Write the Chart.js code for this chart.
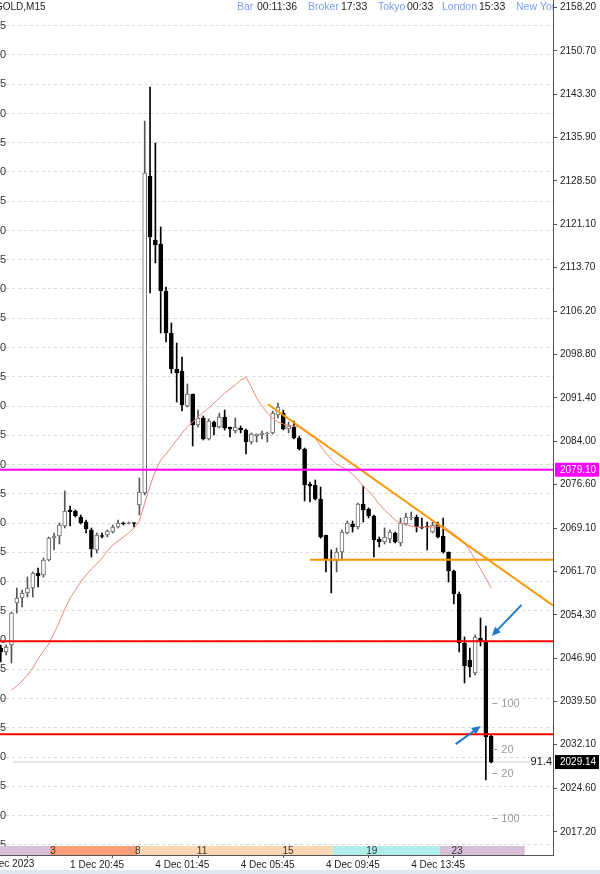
<!DOCTYPE html>
<html>
<head>
<meta charset="utf-8">
<script src="https://cdn.jsdelivr.net/npm/chart.js@4.4.0/dist/chart.umd.min.js"></script>
<style>
  html, body { margin: 0; padding: 0; background: #dfe7ef; }
  #wrap { width: 600px; height: 870px; background: #fff; }
</style>
</head>
<body>
<div id="wrap"><canvas id="myChart" width="600" height="870"></canvas></div>
<script>
// GOLD M15 bars
var opens = [2048.63, 2047.95, 2049.15, 2056.33, 2057.18, 2058.04, 2058.89, 2061.46, 2061.11, 2063.68,
  2067.44, 2067.78, 2069.49, 2072.22, 2072.05, 2071.03, 2070.17, 2068.81, 2065.39, 2067.87,
  2067.95, 2068.46, 2069.32, 2070.00, 2069.92, 2070.00, 2073.08, 2075.13, 2129.31, 2118.37,
  2117.69, 2109.66, 2102.48, 2096.32, 2095.98, 2090.00, 2092.05, 2086.75, 2087.95, 2084.36,
  2087.26, 2086.41, 2088.12, 2086.41, 2085.72, 2086.24, 2085.90, 2083.84, 2084.87, 2085.04,
  2085.21, 2085.38, 2088.46, 2088.80, 2086.07, 2086.41, 2084.53, 2082.65, 2076.66, 2076.49,
  2074.10, 2067.95, 2063.68, 2063.51, 2065.05, 2068.29, 2069.83, 2069.32, 2073.25, 2072.40,
  2071.20, 2067.27, 2066.75, 2067.27, 2068.29, 2066.58, 2069.83, 2070.86, 2071.03, 2069.32,
  2069.40, 2068.46, 2069.83, 2067.78, 2065.05, 2061.80, 2057.87, 2049.49, 2046.58, 2044.36,
  2050.34, 2049.66, 2033.59];
var highs = [2049.15, 2049.15, 2054.79, 2058.89, 2058.55, 2060.77, 2061.63, 2062.31, 2064.02, 2067.61,
  2068.29, 2070.00, 2075.47, 2072.91, 2072.22, 2071.37, 2070.52, 2069.15, 2068.29, 2068.29,
  2068.81, 2069.66, 2070.52, 2070.17, 2070.17, 2070.00, 2077.69, 2138.72, 2144.53, 2134.96,
  2120.60, 2110.34, 2104.19, 2100.77, 2098.37, 2093.76, 2092.05, 2089.31, 2088.29, 2087.78,
  2087.43, 2088.80, 2089.31, 2086.41, 2087.95, 2086.58, 2086.07, 2085.38, 2085.21, 2085.72,
  2085.55, 2089.14, 2090.51, 2089.31, 2087.26, 2087.43, 2084.87, 2082.82, 2077.01, 2077.35,
  2076.15, 2067.95, 2065.39, 2065.73, 2068.81, 2070.34, 2070.34, 2073.42, 2076.32, 2072.57,
  2071.37, 2067.61, 2069.15, 2068.81, 2068.46, 2070.86, 2071.71, 2071.88, 2071.37, 2070.86,
  2070.17, 2070.17, 2070.17, 2070.86, 2065.05, 2061.97, 2058.21, 2050.52, 2048.63, 2050.86,
  2053.76, 2052.40, 2033.76];
var lows = [2046.24, 2047.44, 2046.07, 2054.62, 2055.64, 2057.35, 2057.35, 2059.06, 2060.77, 2063.51,
  2065.39, 2066.41, 2069.15, 2069.49, 2071.03, 2069.83, 2068.29, 2064.19, 2064.87, 2067.44,
  2067.61, 2068.29, 2069.15, 2069.66, 2069.83, 2069.32, 2071.37, 2074.79, 2109.31, 2114.44,
  2102.48, 2100.94, 2095.64, 2090.68, 2089.14, 2089.83, 2083.16, 2086.41, 2084.19, 2084.19,
  2085.04, 2086.24, 2085.90, 2084.70, 2085.38, 2085.38, 2081.79, 2083.50, 2083.84, 2084.36,
  2083.84, 2085.21, 2087.95, 2085.90, 2085.38, 2084.36, 2082.48, 2073.76, 2073.59, 2073.93,
  2067.40, 2061.63, 2058.04, 2061.63, 2063.68, 2068.12, 2068.46, 2068.98, 2070.17, 2070.86,
  2064.19, 2065.90, 2066.41, 2066.58, 2066.58, 2066.07, 2069.66, 2070.52, 2068.46, 2068.98,
  2065.39, 2068.29, 2067.44, 2064.87, 2059.92, 2056.16, 2047.95, 2042.65, 2043.68, 2044.02,
  2048.98, 2026.07, 2028.98];
var closes = [2047.95, 2048.81, 2054.62, 2057.18, 2058.04, 2058.89, 2061.46, 2060.94, 2063.68, 2067.44,
  2067.78, 2069.66, 2072.05, 2071.88, 2071.20, 2070.00, 2068.98, 2065.56, 2067.95, 2067.70,
  2068.64, 2069.32, 2070.00, 2069.83, 2070.00, 2069.92, 2075.30, 2129.83, 2118.89, 2117.52,
  2109.66, 2102.48, 2096.32, 2095.64, 2090.17, 2092.05, 2086.75, 2087.95, 2084.36, 2087.43,
  2086.41, 2088.12, 2086.24, 2086.07, 2086.41, 2085.90, 2083.84, 2085.21, 2085.21, 2085.38,
  2085.38, 2088.80, 2089.83, 2086.07, 2086.58, 2084.53, 2082.65, 2076.49, 2076.32, 2074.10,
  2067.61, 2063.68, 2063.60, 2065.05, 2068.46, 2070.00, 2069.32, 2073.25, 2072.22, 2071.20,
  2067.10, 2066.75, 2067.61, 2068.46, 2066.75, 2070.00, 2071.03, 2071.03, 2069.32, 2069.15,
  2069.32, 2069.66, 2067.61, 2065.05, 2061.80, 2057.87, 2049.49, 2045.56, 2045.39, 2050.52,
  2049.66, 2033.42, 2029.14];

// moving average, starts at bar 2
var maStart = 2;
var maValues = [2041.45, 2042.13, 2042.99, 2044.01, 2045.21, 2046.75, 2048.11, 2049.31, 2051.19, 2053.07,
  2055.29, 2057.17, 2058.54, 2059.91, 2061.11, 2062.13, 2062.99, 2064.01, 2065.21, 2066.23,
  2066.92, 2067.60, 2068.29, 2069.14, 2070.34, 2073.41, 2076.32, 2078.88, 2080.76, 2081.79,
  2082.99, 2084.18, 2085.38, 2086.41, 2087.26, 2088.11, 2088.97, 2089.65, 2090.51, 2091.36,
  2092.22, 2092.90, 2093.58, 2094.44, 2094.95, 2093.24, 2091.36, 2089.99, 2088.80, 2087.94,
  2087.26, 2086.92, 2086.75, 2086.58, 2086.41, 2085.72, 2085.04, 2084.52, 2083.16, 2081.96,
  2080.94, 2080.08, 2079.57, 2079.05, 2078.37, 2077.35, 2076.32, 2075.46, 2074.44, 2073.24,
  2072.22, 2071.36, 2070.51, 2069.99, 2069.65, 2069.48, 2069.31, 2069.31, 2069.31, 2069.31,
  2069.48, 2069.48, 2068.80, 2068.11, 2067.43, 2066.58, 2065.38, 2063.67, 2062.13, 2060.59,
  2058.88];

var rightTicks = [2158.2, 2150.7, 2143.3, 2135.9, 2128.5, 2121.1, 2113.7, 2106.2, 2098.8, 2091.4,
  2084.0, 2076.6, 2069.1, 2061.7, 2054.3, 2046.9, 2039.5, 2032.1, 2024.6, 2017.2];
var leftTicks = [2015, 2020, 2025, 2030, 2035, 2040, 2045, 2050, 2055, 2060, 2065, 2070, 2075, 2080,
  2085, 2090, 2095, 2100, 2105, 2110, 2115, 2120, 2125, 2130, 2135, 2140, 2145, 2150, 2155];
var timeBars = [13, 29, 45, 61, 77];
var timeLabels = ['1 Dec 20:45', '4 Dec 01:45', '4 Dec 05:45', '4 Dec 09:45', '4 Dec 13:45'];
var firstDateBar = -3.3, firstDateLabel = '1 Dec 2023';

// session strip
var sessionEdges = [-0.15, 9.2, 25.55, 62.3, 82.4, 98.3];
var sessionColors = ['#d8bfd8', '#f9a07b', '#fdd7b3', '#aeedea', '#d8bfd8'];
var hourBars = [9.8, 25.7, 37.75, 53.9, 69.6, 85.6];
var hourLabels = ['3', '8', '11', '15', '19', '23'];

// drawn objects
var magentaLevel = 2079.10;
var redLevels = [2049.8, 2033.9];
var supportLevel = 2063.7, supportFrom = 58;
var trendFrom = [50.1, 2090.3], trendTo = [103.6, 2055.9];
var currentPrice = 2029.14;
var levelBar = 92.6;
var levelValues = [2039.2, 2031.4, 2027.3, 2019.6];
var levelTexts = ['100', '20', '20', '100'];
var arrows = [[97.7, 2056.0, 92.1, 2050.7], [85.35, 2032.2, 90.05, 2035.3]];

var xMin = -0.15, xMax = 103.6;
var yMin = 2013.25, yMax = 2159.4;

var FONT = '"Liberation Sans", Arial, sans-serif';
Chart.defaults.font.family = FONT;

var bull = opens.map(function (o, i) { return closes[i] >= o; });
var wickData = opens.map(function (o, i) { return { x: i, y: [lows[i], highs[i]] }; });
var bodyData = opens.map(function (o, i) { return { x: i, y: [o, closes[i]] }; });
var maData = maValues.map(function (v, k) { return { x: maStart + k, y: v }; });

function hline(v, x0, color, width, order) {
  return {
    type: 'line', data: [{ x: x0, y: v }, { x: xMax, y: v }],
    borderColor: color, borderWidth: width, pointRadius: 0, order: order
  };
}

function drawArrow(ctx, x0, y0, x1, y1) {
  var a = Math.atan2(y1 - y0, x1 - x0), c = Math.cos(a), s = Math.sin(a);
  ctx.beginPath();
  ctx.moveTo(x0, y0);
  ctx.lineTo(x1 - 6 * c, y1 - 6 * s);
  ctx.stroke();
  ctx.beginPath();
  ctx.moveTo(x1, y1);
  ctx.lineTo(x1 - 9 * c + 4 * s, y1 - 9 * s - 4 * c);
  ctx.lineTo(x1 - 9 * c - 4 * s, y1 - 9 * s + 4 * c);
  ctx.closePath();
  ctx.fill();
}

var overlay = {
  id: 'overlay',
  beforeDatasetsDraw: function (chart) {
    var ctx = chart.ctx, area = chart.chartArea, x = chart.scales.x;
    ctx.save();
    for (var k = 0; k < sessionColors.length; k++) {
      var x0 = x.getPixelForValue(sessionEdges[k]);
      var x1 = x.getPixelForValue(sessionEdges[k + 1]);
      ctx.fillStyle = sessionColors[k];
      ctx.fillRect(x0, area.bottom - 9, x1 - x0, 9);
    }
    ctx.font = '10px ' + FONT;
    ctx.fillStyle = '#333';
    ctx.textAlign = 'center';
    ctx.textBaseline = 'middle';
    hourBars.forEach(function (b, k) {
      ctx.fillText(hourLabels[k], x.getPixelForValue(b), area.bottom - 4);
    });
    ctx.restore();
  },
  afterDraw: function (chart) {
    var ctx = chart.ctx, area = chart.chartArea, x = chart.scales.x, y = chart.scales.y;
    ctx.save();

    // arrows
    ctx.strokeStyle = '#1f78c8';
    ctx.fillStyle = '#1f78c8';
    ctx.lineWidth = 2;
    arrows.forEach(function (a) {
      drawArrow(ctx, x.getPixelForValue(a[0]), y.getPixelForValue(a[1]),
        x.getPixelForValue(a[2]), y.getPixelForValue(a[3]));
    });

    // indicator level labels
    ctx.font = '11px ' + FONT;
    ctx.textAlign = 'left';
    ctx.textBaseline = 'middle';
    ctx.fillStyle = '#9a9a9a';
    ctx.strokeStyle = '#9a9a9a';
    ctx.lineWidth = 1;
    var lx = x.getPixelForValue(levelBar);
    levelValues.forEach(function (v, k) {
      var py = Math.round(y.getPixelForValue(v)) + 0.5;
      ctx.beginPath();
      ctx.moveTo(lx - 2, py);
      ctx.lineTo(lx + 3, py);
      ctx.stroke();
      ctx.fillText(levelTexts[k], lx + 7, py);
    });

    // current price tag
    var cy = y.getPixelForValue(currentPrice);
    ctx.fillStyle = '#111';
    ctx.font = '11px ' + FONT;
    ctx.textAlign = 'right';
    ctx.fillText('91.4', area.right - 1, cy);
    ctx.fillStyle = '#000';
    ctx.fillRect(area.right + 2, cy - 7, 44, 14);
    ctx.fillStyle = '#fff';
    ctx.font = '10px ' + FONT;
    ctx.textAlign = 'left';
    ctx.fillText(currentPrice.toFixed(2), area.right + 7, cy);

    var my = y.getPixelForValue(magentaLevel);
    ctx.fillStyle = '#ff00ff';
    ctx.fillRect(area.right + 2, my - 7, 44, 14);
    ctx.fillStyle = '#fff';
    ctx.fillText(magentaLevel.toFixed(2), area.right + 7, my);

    // first, cut-off date label
    ctx.fillStyle = '#222';
    ctx.textBaseline = 'top';
    ctx.fillText(firstDateLabel, x.getPixelForValue(firstDateBar), area.bottom + 4);

    // header
    ctx.beginPath();
    ctx.rect(0, 0, area.right, area.bottom);
    ctx.clip();
    ctx.textBaseline = 'middle';
    ctx.font = '10px ' + FONT;
    ctx.fillStyle = '#222';
    ctx.fillText('GOLD,M15', -5, 7);
    ctx.font = '10.5px ' + FONT;
    var head = [['Bar', 237, '#7b9ef2'], ['00:11:36', 257, '#222'], ['Broker', 308, '#7b9ef2'],
      ['17:33', 341, '#222'], ['Tokyo', 378, '#7b9ef2'], ['00:33', 407, '#222'],
      ['London', 442, '#7b9ef2'], ['15:33', 479, '#222'], ['New York', 516, '#7b9ef2']];
    head.forEach(function (h) {
      ctx.fillStyle = h[2];
      ctx.fillText(h[0], h[1], 7);
    });
    ctx.restore();
  }
};

var chrt = document.getElementById('myChart').getContext('2d');
var chartId = new Chart(chrt, {
  type: 'bar',
  data: {
    datasets: [
      hline(magentaLevel, xMin, '#ff00ff', 2, 0),
      hline(redLevels[0], xMin, '#ff0000', 2, 0),
      hline(redLevels[1], xMin, '#ff0000', 2, 0),
      hline(supportLevel, supportFrom, '#ff9500', 2, 0),
      {
        type: 'line', data: [{ x: trendFrom[0], y: trendFrom[1] }, { x: trendTo[0], y: trendTo[1] }],
        borderColor: '#ff9500', borderWidth: 2, pointRadius: 0, order: 0
      },
      {
        type: 'line', data: [{ x: 2.3, y: currentPrice }, { x: 99.3, y: currentPrice }],
        borderColor: '#cccccc', borderWidth: 1, pointRadius: 0, order: 4
      },
      {
        type: 'line', data: maData, borderColor: '#f3877a', borderWidth: 1,
        pointRadius: 0, tension: 0, order: 1
      },
      {
        data: bodyData, grouped: false, barThickness: 4, minBarLength: 1,
        backgroundColor: bull.map(function (b) { return b ? '#ffffff' : '#000000'; }),
        borderColor: bull.map(function (b) { return b ? '#6a6a6a' : '#000000'; }),
        borderWidth: 1, borderSkipped: false, order: 2
      },
      {
        data: wickData, grouped: false, barThickness: 1,
        backgroundColor: bull.map(function (b) { return b ? '#555555' : '#000000'; }),
        order: 3
      }
    ]
  },
  options: {
    responsive: false,
    animation: false,
    devicePixelRatio: 1,
    layout: { padding: 0 },
    plugins: { legend: { display: false }, tooltip: { enabled: false } },
    scales: {
      x: {
        type: 'linear', min: xMin, max: xMax, offset: false,
        afterBuildTicks: function (s) { s.ticks = timeBars.map(function (v) { return { value: v }; }); },
        afterFit: function (s) { s.height = 15; s.paddingLeft = 0; s.paddingRight = 0; },
        ticks: {
          callback: function (v, i) { return timeLabels[i]; },
          align: 'start', padding: 1, maxRotation: 0, autoSkip: false,
          font: { size: 10 }, color: '#222'
        },
        grid: { drawOnChartArea: false, tickLength: 3, color: '#555' },
        border: { color: '#555' }
      },
      y: {
        position: 'right', min: yMin, max: yMax,
        afterBuildTicks: function (s) { s.ticks = rightTicks.map(function (v) { return { value: v }; }); },
        afterFit: function (s) { s.width = 47; s.paddingTop = 0; s.paddingBottom = 0; },
        ticks: {
          callback: function (v) { return v.toFixed(2); },
          crossAlign: 'near', padding: 3, font: { size: 10 }, color: '#222'
        },
        grid: { drawOnChartArea: false, tickLength: 4, color: '#555' },
        border: { color: '#555' }
      },
      yl: {
        position: 'left', min: yMin, max: yMax,
        afterBuildTicks: function (s) { s.ticks = leftTicks.map(function (v) { return { value: v }; }); },
        afterFit: function (s) { s.width = 0; s.paddingTop = 0; s.paddingBottom = 0; },
        ticks: {
          mirror: true, padding: 0,
          callback: function (v) { return String(v).slice(-1); },
          font: { size: 11 }, color: '#333'
        },
        grid: { color: '#d9d9d9', drawTicks: false },
        border: { display: false, dash: [3, 3] }
      }
    }
  },
  plugins: [overlay]
});
</script>
</body>
</html>
